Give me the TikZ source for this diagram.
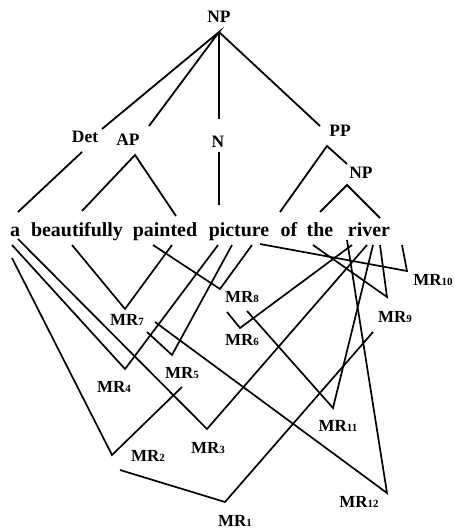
\documentclass[tikz,border=0pt]{standalone}
\usepackage{fontspec}
\setmainfont{Liberation Serif}
\usetikzlibrary{positioning}
\tikzset{
  cat/.style={font=\fontsize{17.5}{20}\selectfont\bfseries, inner sep=1pt},
  word/.style={font=\fontsize{20}{24}\selectfont\bfseries, anchor=base, inner sep=0pt},
  mrlab/.style={font=\fontsize{17}{20}\selectfont\bfseries, inner sep=1pt},
  branch/.style={line width=1.8pt},
  mrline/.style={line width=1.7pt}
}
\newcommand{\mrtag}[1]{MR{\fontsize{11}{12}\selectfont #1}}

\begin{document}
\begin{tikzpicture}[x=1bp,y=-1bp]
\useasboundingbox[fill=white] (0,0) rectangle (454,529);
% categories
\node[cat] (np) at (219,17) {NP};
\node[cat] (det) at (85,137) {Det};
\node[cat] (ap) at (128,140) {AP};
\node[cat] (n) at (218,142) {N};
\node[cat] (pp) at (340,131) {PP};
\node[cat] (np2) at (361,173) {NP};
% words
\node[word] (w-a) at (15,236) {a};
\node[word] (w-beau) at (77,236) {beautifully};
\node[word] (w-paint) at (165,236) {painted};
\node[word] (w-pic) at (239,236) {picture};
\node[word] (w-of) at (289,236) {of};
\node[word] (w-the) at (320,236) {the};
\node[word] (w-river) at (369,236) {river};
% tree
\coordinate (np-b) at (219,32);
\coordinate (det-t) at (102,129);
\coordinate (ap-t) at (149,126);
\coordinate (n-t) at (219,119);
\coordinate (pp-t) at (320,126);
\coordinate (det-b) at (82,152);
\coordinate (a-t) at (18,212);
\coordinate (ap-b) at (135,155);
\coordinate (beau-t) at (82,211);
\coordinate (paint-t) at (176,216);
\coordinate (n-b) at (219,152);
\coordinate (pic-t) at (219,205);
\coordinate (pp-b) at (327,146);
\coordinate (of-t) at (280,212);
\coordinate (np2-t) at (347,164);
\coordinate (np2-b) at (347,185);
\coordinate (the-t) at (320,212);
\coordinate (river-t) at (380,218);
\draw[branch] (det-t) -- (np-b) -- (ap-t);
\draw[branch] (np-b) -- (n-t);
\draw[branch] (np-b) -- (pp-t);
\draw[branch] (det-b) -- (a-t);
\draw[branch] (beau-t) -- (ap-b) -- (paint-t);
\draw[branch] (n-b) -- (pic-t);
\draw[branch] (of-t) -- (pp-b) -- (np2-t);
\draw[branch] (the-t) -- (np2-b) -- (river-t);
% MR links
\coordinate (s1) at (120,470);  \coordinate (v1) at (225,502);  \coordinate (e1) at (373,332);
\coordinate (s2) at (12,258);   \coordinate (v2) at (112,455);  \coordinate (e2) at (182,387);
\coordinate (s3) at (18,239);   \coordinate (v3) at (207,429);  \coordinate (e3) at (367,245);
\coordinate (s4) at (12,245);   \coordinate (v4) at (125,369);  \coordinate (e4) at (218,245);
\coordinate (s5) at (147,332);  \coordinate (v5) at (172,355);  \coordinate (e5) at (232,245);
\coordinate (s6) at (227,312);  \coordinate (v6) at (240,328);  \coordinate (e6) at (352,245);
\coordinate (s7) at (72,245);   \coordinate (v7) at (125,309);  \coordinate (e7) at (172,245);
\coordinate (s8) at (153,245);  \coordinate (v8) at (220,289);  \coordinate (e8) at (252,245);
\coordinate (s9) at (313,245);  \coordinate (v9) at (387,297);  \coordinate (e9) at (380,245);
\coordinate (s10) at (260,244); \coordinate (v10) at (407,271); \coordinate (e10) at (402,245);
\coordinate (s11) at (247,311); \coordinate (v11) at (333,408); \coordinate (e11) at (373,245);
\coordinate (s12) at (155,322); \coordinate (v12) at (387,493); \coordinate (e12) at (347,240);
\draw[mrline] (s1) -- (v1) -- (e1);
\draw[mrline] (s2) -- (v2) -- (e2);
\draw[mrline] (s3) -- (v3) -- (e3);
\draw[mrline] (s4) -- (v4) -- (e4);
\draw[mrline] (s5) -- (v5) -- (e5);
\draw[mrline] (s6) -- (v6) -- (e6);
\draw[mrline] (s7) -- (v7) -- (e7);
\draw[mrline] (s8) -- (v8) -- (e8);
\draw[mrline] (s9) -- (v9) -- (e9);
\draw[mrline] (s10) -- (v10) -- (e10);
\draw[mrline] (s11) -- (v11) -- (e11);
\draw[mrline] (s12) -- (v12) -- (e12);
% labels
\node[mrlab] (mr1) at (235,521) {\mrtag{1}};
\node[mrlab] (mr2) at (148,456) {\mrtag{2}};
\node[mrlab] (mr3) at (208,448) {\mrtag{3}};
\node[mrlab] (mr4) at (114,387) {\mrtag{4}};
\node[mrlab] (mr5) at (182,373) {\mrtag{5}};
\node[mrlab] (mr6) at (242,340) {\mrtag{6}};
\node[mrlab] (mr7) at (127,320) {\mrtag{7}};
\node[mrlab] (mr8) at (242,297) {\mrtag{8}};
\node[mrlab] (mr9) at (395,317) {\mrtag{9}};
\node[mrlab] (mr10) at (433,280) {\mrtag{10}};
\node[mrlab] (mr11) at (338,426) {\mrtag{11}};
\node[mrlab] (mr12) at (359,502) {\mrtag{12}};
\end{tikzpicture}
\end{document}
